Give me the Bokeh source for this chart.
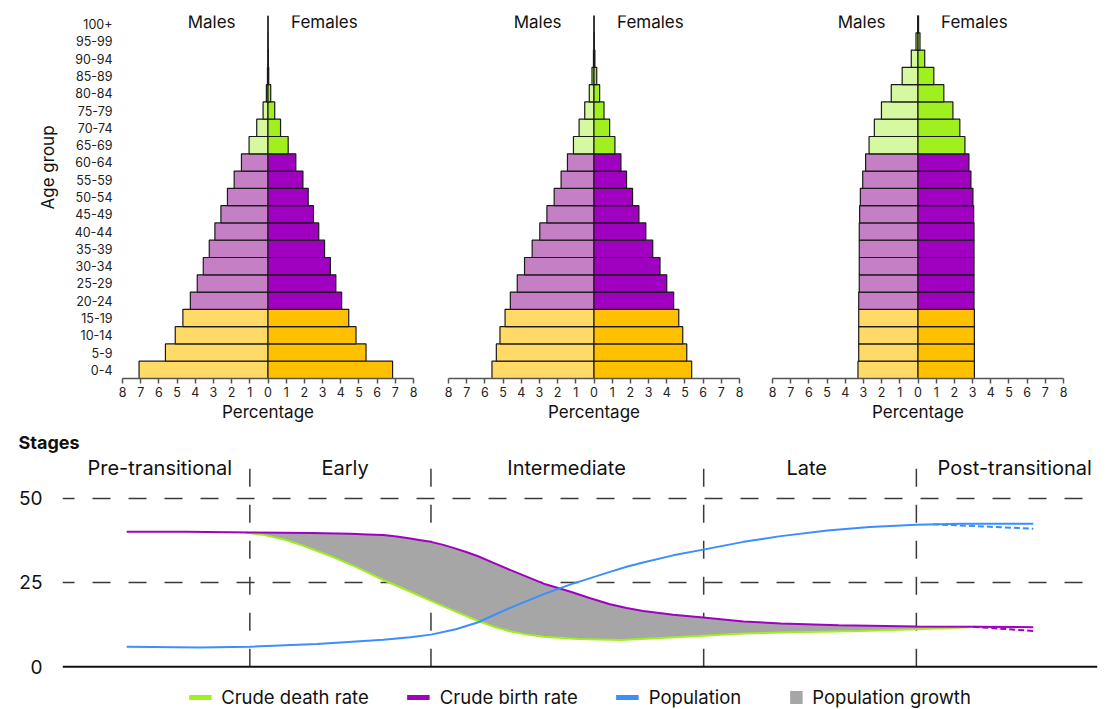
from bokeh.plotting import figure
from bokeh.models import (ColumnDataSource, FixedTicker, Range1d, Legend, LegendItem,
                          CustomJSTickFormatter, Title, Span)
from bokeh.layouts import column, row
from bokeh.embed import file_html
from bokeh.resources import INLINE
from bokeh.core.properties import value

FONT = "Inter"
NAN = float("nan")

# ---------------- data ----------------
age_groups = ["0-4", "5-9", "10-14", "15-19", "20-24", "25-29", "30-34", "35-39",
              "40-44", "45-49", "50-54", "55-59", "60-64", "65-69", "70-74", "75-79",
              "80-84", "85-89", "90-94", "95-99", "100+"]

pre_male = [7.09, 5.64, 5.10, 4.68, 4.27, 3.89, 3.56, 3.23, 2.92, 2.59, 2.23, 1.86,
            1.46, 1.04, 0.62, 0.27, 0.09, 0.03, 0.01, 0.005, 0.0]
pre_female = [6.85, 5.39, 4.84, 4.44, 4.05, 3.73, 3.43, 3.11, 2.79, 2.50, 2.21, 1.92,
              1.53, 1.11, 0.69, 0.37, 0.15, 0.04, 0.02, 0.01, 0.0]

mid_male = [5.61, 5.37, 5.17, 4.89, 4.60, 4.22, 3.82, 3.40, 2.98, 2.59, 2.19, 1.81,
            1.46, 1.13, 0.82, 0.51, 0.26, 0.11, 0.03, 0.01, 0.0]
mid_female = [5.37, 5.10, 4.88, 4.66, 4.38, 4.00, 3.63, 3.23, 2.85, 2.47, 2.12, 1.79,
              1.48, 1.15, 0.86, 0.55, 0.31, 0.15, 0.05, 0.02, 0.005]

post_male = [3.30, 3.26, 3.26, 3.26, 3.26, 3.23, 3.23, 3.23, 3.23, 3.21, 3.17, 3.04,
             2.88, 2.69, 2.40, 2.01, 1.47, 0.87, 0.37, 0.11, 0.02]
post_female = [3.10, 3.10, 3.10, 3.10, 3.08, 3.08, 3.08, 3.08, 3.08, 3.06, 3.02, 2.91,
               2.80, 2.58, 2.30, 1.92, 1.42, 0.87, 0.37, 0.11, 0.03]

stage_names = ["Pre-transitional", "Early", "Intermediate", "Late", "Post-transitional"]
stage_label_x = [9.4, 27.3, 48.7, 71.9, 92.0]
stage_bounds = [18.1, 35.6, 61.95, 82.5]

birth_t = [6.2, 12.0, 18.1, 24.0, 27.8, 29.5, 31.0, 32.3, 33.6, 34.6, 35.6, 36.8, 38.0,
           39.0, 40.1, 41.7, 43.3, 44.9, 46.5, 49.1, 51.0, 52.9, 54.5, 56.1, 59.0, 61.9,
           65.8, 69.4, 75.0, 82.5, 88.0, 93.8]
birth = [40.0, 40.0, 39.8, 39.6, 39.4, 39.2, 39.0, 38.6, 38.0, 37.5, 37.0, 36.1, 35.0,
         34.0, 32.8, 30.7, 28.6, 26.6, 24.6, 22.2, 20.3, 18.5, 17.4, 16.5, 15.4, 14.6,
         13.4, 12.8, 12.3, 11.9, 11.8, 11.7]

death_t = [17.7, 19.5, 21.4, 23.0, 24.6, 26.2, 27.8, 29.4, 31.0, 33.6, 35.6, 38.0, 40.1,
           41.7, 43.3, 44.9, 46.5, 49.8, 53.9, 57.8, 61.9, 65.8, 69.4, 77.1, 82.5, 87.7]
death = [39.8, 39.0, 37.7, 36.1, 34.3, 32.4, 30.3, 28.0, 25.7, 22.2, 19.5, 16.3, 13.6,
         11.8, 10.4, 9.5, 8.9, 8.2, 7.9, 8.5, 9.2, 9.8, 10.1, 10.6, 11.1, 11.7]

pop_t = [6.2, 13.3, 18.1, 24.6, 31.0, 33.6, 35.6, 38.0, 40.1, 43.3, 46.5, 49.1, 52.9,
         54.5, 56.1, 59.0, 61.9, 65.8, 69.4, 73.9, 78.0, 82.5, 86.8, 93.8]
pop = [5.9, 5.7, 5.9, 6.7, 8.0, 8.7, 9.5, 11.1, 13.1, 17.5, 21.5, 24.4, 28.1,
       29.6, 30.9, 33.0, 34.7, 37.0, 38.7, 40.4, 41.4, 42.1, 42.4, 42.4]

pop_proj_t = [84.1, 88.0, 93.8]
pop_proj = [42.2, 41.7, 40.9]
birth_proj_t = [88.0, 93.8]
birth_proj = [11.8, 10.6]

legend_labels = ["Crude death rate", "Crude birth rate", "Population", "Population growth"]

# ---------------- styles ----------------
male_colors = ["#FFDA66"] * 4 + ["#C57FC5"] * 9 + ["#D6F8A0"] * 8
female_colors = ["#FFC000"] * 4 + ["#A000C0"] * 9 + ["#A0F020"] * 8
C_DEATH = "#A0F020"
C_BIRTH = "#A000C0"
C_POP = "#3A8EFF"
C_GROWTH = "#A6A6A6"
GRID = "#3a3a3a"


def pyramid(male, female, width, lb, rb, show_y):
    p = figure(width=width, height=428, x_range=Range1d(-8, 8), y_range=Range1d(-0.5, 20.5),
               output_backend="svg", toolbar_location=None,
               min_border_left=lb, min_border_right=rb, min_border_top=15, min_border_bottom=50)
    p.outline_line_color = None
    p.grid.visible = False
    n = len(age_groups)
    src = ColumnDataSource(dict(y=list(range(n)), ml=[-v for v in male], z=[0] * n,
                                fr=female, mc=male_colors, fc=female_colors))
    p.hbar(y="y", left="ml", right="z", height=1, fill_color="mc", line_color="#1a1a1a",
           line_width=1.2, source=src)
    p.hbar(y="y", left="z", right="fr", height=1, fill_color="fc", line_color="#1a1a1a",
           line_width=1.2, source=src)
    p.text(x=[-3.1, 3.1], y=[20.1, 20.1], text=["Males", "Females"], text_align="center",
           text_baseline="middle", text_font=value(FONT), text_font_size="17px",
           text_color="#111111")
    ax = p.xaxis[0]
    ax.ticker = FixedTicker(ticks=list(range(-8, 9)))
    ax.formatter = CustomJSTickFormatter(code="return Math.abs(tick).toString()")
    ax.axis_line_color = "#555555"
    ax.axis_line_width = 1.5
    ax.major_tick_line_color = "#555555"
    ax.major_tick_line_width = 1.5
    ax.major_tick_out = 5
    ax.major_tick_in = 0
    ax.minor_tick_line_color = None
    ax.major_label_text_font = FONT
    ax.major_label_text_font_size = "12.5px"
    ax.major_label_text_color = "#222222"
    ax.major_label_standoff = 3
    ax.axis_label = "Percentage"
    ax.axis_label_text_font = FONT
    ax.axis_label_text_font_size = "17px"
    ax.axis_label_text_font_style = "normal"
    ax.axis_label_text_color = "#111111"
    ax.axis_label_standoff = 2
    ay = p.yaxis[0]
    if show_y:
        ay.ticker = FixedTicker(ticks=list(range(n)))
        ay.formatter = CustomJSTickFormatter(args=dict(labels=age_groups),
                                             code="return labels[Math.round(tick)]")
        ay.axis_line_color = None
        ay.major_tick_line_color = None
        ay.minor_tick_line_color = None
        ay.major_label_text_font = FONT
        ay.major_label_text_font_size = "12.5px"
        ay.major_label_text_color = "#222222"
        ay.major_label_standoff = 4
        t = Title(text="Age group", align="left", offset=169, text_font=FONT,
                  text_font_size="17px", text_font_style="normal", text_color="#111111",
                  standoff=27)
        p.add_layout(t, "left")
    else:
        ay.visible = False
    return p


p1 = pyramid(pre_male, pre_female, 431, 122, 18, True)
p2 = pyramid(mid_male, mid_female, 324, 17, 16, False)
p3 = pyramid(post_male, post_female, 354, 17, 46, False)

# ---------------- bottom chart ----------------
p4 = figure(width=1109, height=281, x_range=Range1d(0, 100), y_range=Range1d(-12.7, 62.9),
            output_backend="svg", toolbar_location=None,
            min_border_left=62, min_border_right=12, min_border_top=25, min_border_bottom=0)
p4.outline_line_color = None
p4.title.text = "Stages"
p4.title.text_font = FONT
p4.title.text_font_size = "18px"
p4.title.text_font_style = "bold"
p4.title.align = "left"
p4.title.offset = -44
p4.title.standoff = 3
p4.title.text_color = "#111111"

p4.xaxis.visible = False
p4.xgrid.visible = False
p4.ygrid.ticker = FixedTicker(ticks=[25, 50])
p4.ygrid.grid_line_color = GRID
p4.ygrid.grid_line_width = 1.5
p4.ygrid.grid_line_dash = "18 18"
p4.ygrid.grid_line_dash_offset = 6

ya = p4.yaxis[0]
ya.ticker = FixedTicker(ticks=[0, 25, 50])
ya.axis_line_color = None
ya.major_tick_line_color = None
ya.minor_tick_line_color = None
ya.major_label_text_font = FONT
ya.major_label_text_font_size = "19px"
ya.major_label_text_color = "#111111"
ya.major_label_standoff = 14

p4.add_layout(Span(location=0, dimension="width", line_color="#111111", line_width=2))

p4.segment(x0=stage_bounds, y0=[0] * len(stage_bounds), x1=stage_bounds,
           y1=[60] * len(stage_bounds), line_color=GRID, line_width=1.5, line_dash="18 18")
p4.text(x=stage_label_x, y=[58.8] * len(stage_label_x), text=stage_names,
        text_align="center", text_baseline="middle", text_font=value(FONT),
        text_font_size="20px", text_color="#111111")

# population growth area between birth and death rates
t_start, t_end = death_t[0], death_t[-1]
b_pairs = [(t, v) for t, v in zip(birth_t, birth) if t_start <= t <= t_end]
gx = list(death_t) + [t for t, _ in reversed(b_pairs)]
gy = list(death) + [v for _, v in reversed(b_pairs)]
p4.patch(gx, gy, fill_color=C_GROWTH, line_color=None)

p4.line(death_t, death, line_color=C_DEATH, line_width=2)
p4.line(birth_t, birth, line_color=C_BIRTH, line_width=2)
p4.line(pop_t, pop, line_color=C_POP, line_width=2)
p4.line(pop_proj_t, pop_proj, line_color=C_POP, line_width=2, line_dash="6 3")
p4.line(birth_proj_t, birth_proj, line_color=C_BIRTH, line_width=2, line_dash="6 3")

# legend proxies (NaN data: only their legend swatches are drawn)
r_d = p4.line(x=[NAN], y=[NAN], line_color=C_DEATH, line_width=5)
r_b = p4.line(x=[NAN], y=[NAN], line_color=C_BIRTH, line_width=5)
r_p = p4.line(x=[NAN], y=[NAN], line_color=C_POP, line_width=5)
# a thick dashed stroke whose single dash forms the grey square swatch
r_g = p4.line(x=[NAN], y=[NAN], line_color=C_GROWTH, line_width=13, line_cap="butt",
              line_dash="13 10", line_dash_offset=13)
legend = Legend(items=[LegendItem(label=lab, renderers=[r])
                       for lab, r in zip(legend_labels, [r_d, r_b, r_p, r_g])],
                orientation="horizontal", location="bottom_center", glyph_width=23,
                glyph_height=18, label_standoff=10, spacing=38, padding=0, margin=1,
                label_text_font=FONT, label_text_font_size="18.5px",
                label_text_color="#111111", border_line_color=None,
                background_fill_alpha=0)
p4.add_layout(legend, "center")

layout = column(row(p1, p2, p3), p4)
open("out.html", "w").write(file_html(layout, INLINE))
